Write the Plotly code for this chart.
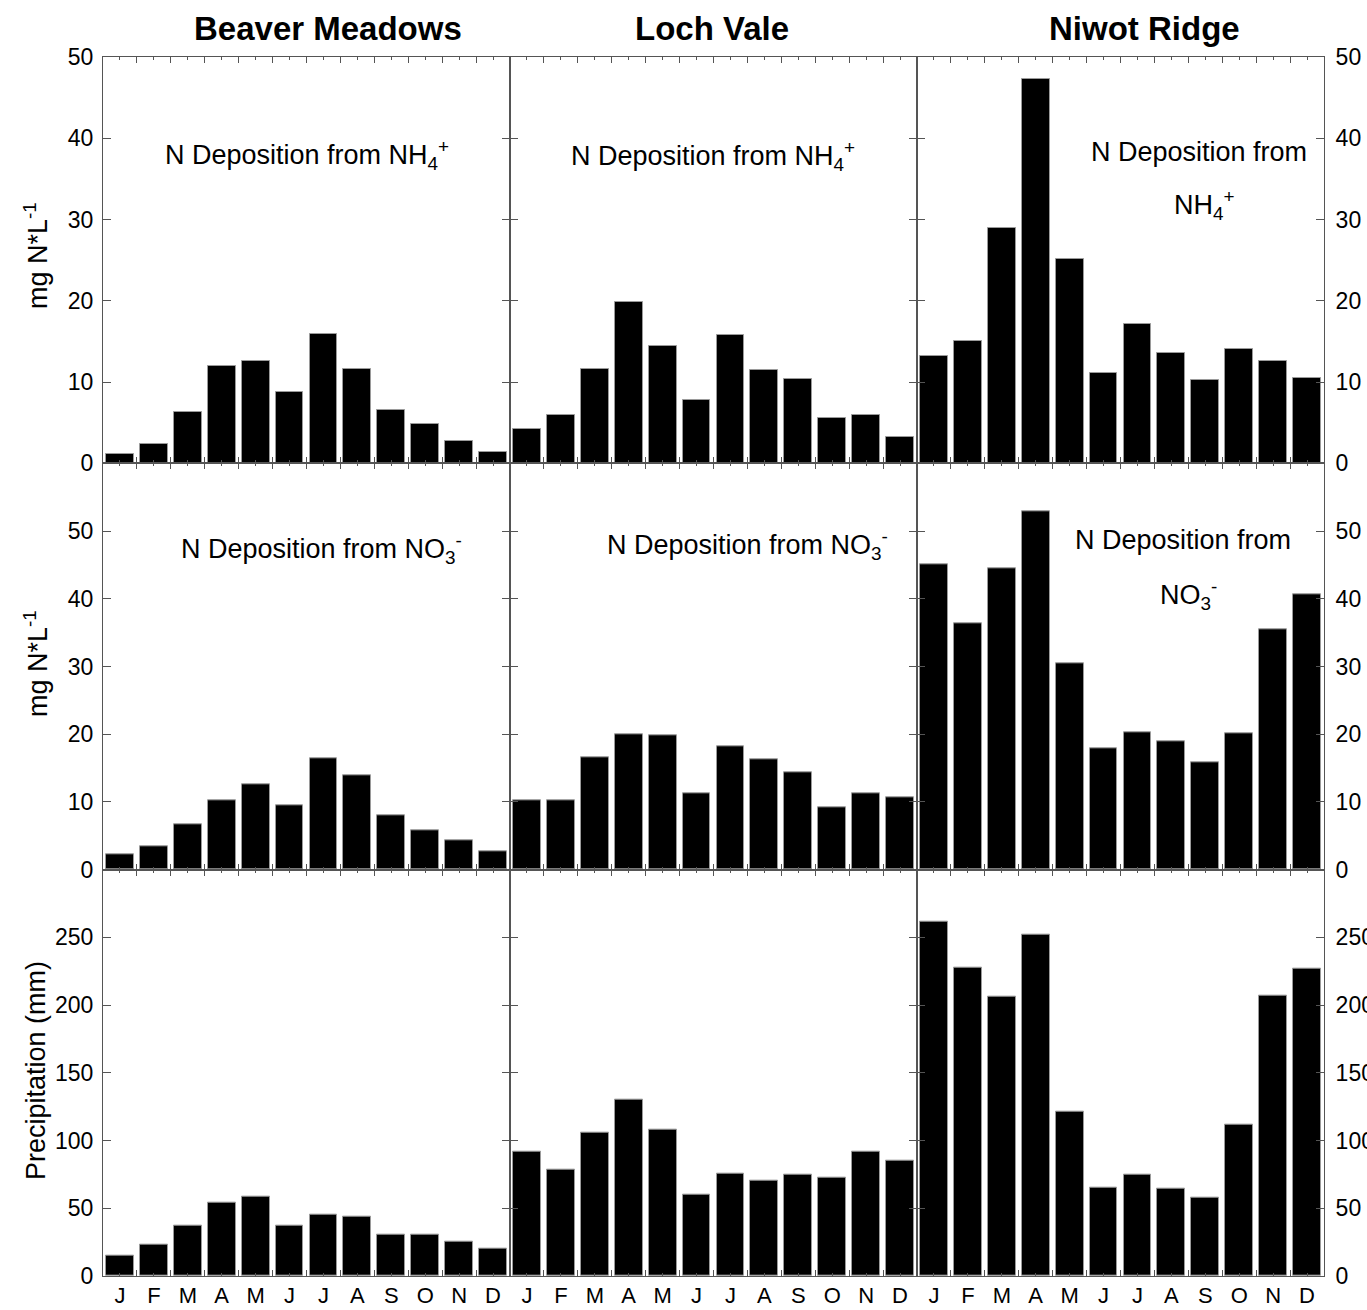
import plotly.graph_objects as go
from plotly.subplots import make_subplots

# ---- data -----------------------------------------------------------------
months = ["J", "F", "M", "A", "M", "J", "J", "A", "S", "O", "N", "D"]
sites = ["Beaver Meadows", "Loch Vale", "Niwot Ridge"]

# N deposition from NH4+ (mg N*L-1)
nh4_beaver = [1.15, 2.4, 6.3, 12.0, 12.6, 8.8, 15.9, 11.6, 6.6, 4.9, 2.7, 1.35]
nh4_loch = [4.2, 5.9, 11.6, 19.8, 14.5, 7.8, 15.75, 11.5, 10.4, 5.6, 6.0, 3.3]
nh4_niwot = [13.2, 15.1, 28.9, 47.3, 25.1, 11.1, 17.1, 13.6, 10.3, 14.1, 12.6, 10.5]

# N deposition from NO3- (mg N*L-1)
no3_beaver = [2.2, 3.45, 6.65, 10.3, 12.55, 9.55, 16.5, 14.0, 8.0, 5.75, 4.3, 2.75]
no3_loch = [10.25, 10.3, 16.65, 20.05, 19.8, 11.2, 18.2, 16.35, 14.4, 9.2, 11.2, 10.7]
no3_niwot = [45.1, 36.35, 44.5, 52.9, 30.5, 17.9, 20.3, 18.9, 15.8, 20.1, 35.5, 40.7]

# Precipitation (mm)
precip_beaver = [15.2, 22.9, 37.1, 54.1, 58.5, 37.1, 45.2, 43.5, 30.7, 30.7, 25.1, 20.4]
precip_loch = [91.9, 78.7, 105.7, 130.0, 107.7, 59.7, 75.7, 70.1, 74.7, 72.3, 91.9, 85.5]
precip_niwot = [261.6, 227.4, 206.2, 251.7, 121.4, 65.4, 74.7, 64.2, 57.8, 111.6, 207.2, 226.9]

y_ranges = [[0, 50], [0, 60], [0, 300]]
y_ticks = [list(range(0, 51, 10)), list(range(0, 51, 10)), list(range(0, 251, 50))]

# ---- layout geometry --------------------------------------------------------
W, H = 1367, 1310
L, R, T, B = 103, 1324, 57, 1276
FONT = "Arial, Liberation Sans, Helvetica, sans-serif"
AXIS_COLOR = "#555555"


def px_x(p):
    return (p - L) / (R - L)


def px_y(p):
    return (B - p) / (B - T)


fig = make_subplots(rows=3, cols=3, horizontal_spacing=0, vertical_spacing=0)

rows = [
    [nh4_beaver, nh4_loch, nh4_niwot],
    [no3_beaver, no3_loch, no3_niwot],
    [precip_beaver, precip_loch, precip_niwot],
]
xpos = list(range(1, 13))

for r, series in enumerate(rows, start=1):
    for c, vals in enumerate(series, start=1):
        fig.add_trace(
            go.Bar(
                x=xpos,
                y=vals,
                width=0.82,
                marker=dict(color="black", line=dict(color="#9a9a9a", width=1)),
                showlegend=False,
                hoverinfo="skip",
            ),
            row=r,
            col=c,
        )
        fig.update_xaxes(
            range=[0.5, 12.5],
            tickmode="array",
            tickvals=xpos,
            ticktext=months,
            showticklabels=(r == 3),
            ticks="inside",
            ticklen=3,
            tickcolor=AXIS_COLOR,
            minor=dict(
                tickmode="array",
                tickvals=[i + 0.5 for i in range(0, 13)],
                ticks="inside",
                ticklen=6,
                tickcolor=AXIS_COLOR,
            ),
            showline=True,
            linecolor=AXIS_COLOR,
            linewidth=1,
            mirror="ticks",
            showgrid=False,
            zeroline=False,
            automargin=False,
            tickfont=dict(family=FONT, size=22, color="black"),
            ticklabelstandoff=0,
            row=r,
            col=c,
        )
        fig.update_yaxes(
            range=y_ranges[r - 1],
            tickmode="array",
            tickvals=y_ticks[r - 1],
            showticklabels=(c != 2),
            side="right" if c == 3 else "left",
            ticks="inside",
            ticklen=8,
            tickcolor=AXIS_COLOR,
            showline=True,
            linecolor=AXIS_COLOR,
            linewidth=1,
            mirror="ticks",
            showgrid=False,
            zeroline=False,
            automargin=False,
            tickfont=dict(family=FONT, size=23, color="black"),
            ticklabelstandoff=6 if c == 3 else 4,
            row=r,
            col=c,
        )

annotations = []

# site titles above the columns
for name, cx in zip(sites, [327.5, 712, 1144]):
    annotations.append(dict(
        text=f"<b>{name}</b>", x=px_x(cx), y=px_y(28), xref="paper", yref="paper",
        xanchor="center", yanchor="middle", showarrow=False,
        font=dict(family=FONT, size=33, color="black"),
    ))

# panel labels
nh4 = "NH<sub>4</sub><sup>+</sup>"
no3 = "NO<sub>3</sub><sup>-</sup>"
panel_labels = [
    ("N Deposition from " + nh4, 163, 155, "left"),
    ("N Deposition from " + nh4, 569, 156, "left"),
    ("N Deposition from", 1199, 152, "center"),
    (nh4, 1172, 205, "left"),
    ("N Deposition from " + no3, 179, 549, "left"),
    ("N Deposition from " + no3, 605, 545, "left"),
    ("N Deposition from", 1183, 540, "center"),
    (no3, 1158, 595, "left"),
]
for text, px, py, anchor in panel_labels:
    annotations.append(dict(
        text=text, x=px_x(px), y=px_y(py), xref="paper", yref="paper",
        xanchor=anchor, yanchor="middle", showarrow=False,
        font=dict(family=FONT, size=27, color="black"),
    ))

# y-axis titles
for text, py in [("mg N*L<sup>-1</sup>", 256), ("mg N*L<sup>-1</sup>", 664),
                 ("Precipitation (mm)", 1071)]:
    annotations.append(dict(
        text=text, x=px_x(36), y=px_y(py), xref="paper", yref="paper",
        xanchor="center", yanchor="middle", textangle=-90, showarrow=False,
        font=dict(family=FONT, size=27, color="black"),
    ))

fig.update_layout(
    width=W,
    height=H,
    margin=dict(l=L, r=W - R, t=T, b=H - B, autoexpand=False),
    paper_bgcolor="white",
    plot_bgcolor="white",
    bargap=0,
    annotations=annotations,
    font=dict(family=FONT, color="black"),
)

fig.write_html("out.html")
